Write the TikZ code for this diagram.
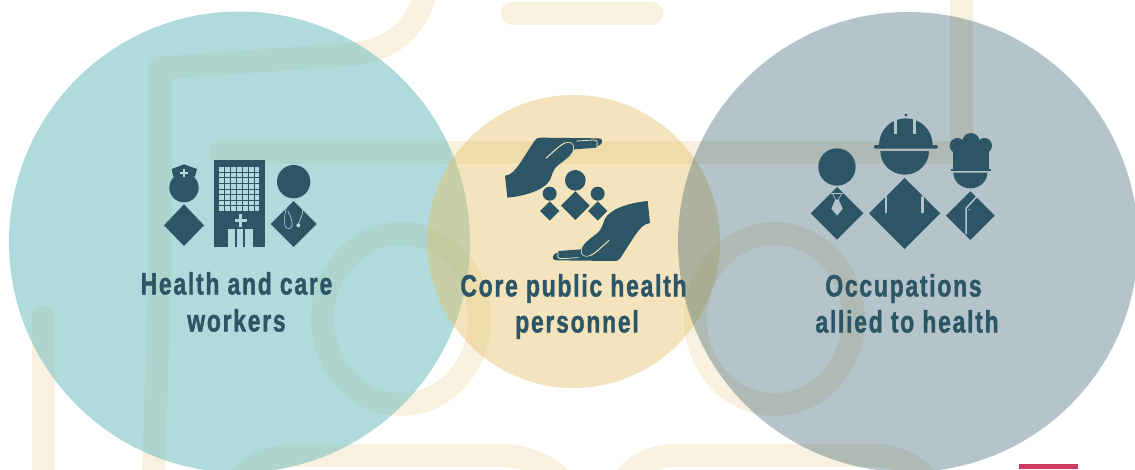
\documentclass[tikz,border=0pt]{standalone}
\usepackage{fontspec}
\newfontfamily\labelfont[FakeStretch=0.74,FakeBold=1.2,LetterSpace=5.6]{Liberation Sans Bold}
\definecolor{ink}{HTML}{2C5566}
\definecolor{lineb}{HTML}{F9F1DF}
\definecolor{teal}{RGB}{106,187,189}
\definecolor{gold}{RGB}{228,193,102}
\definecolor{slatec}{RGB}{40,86,103}
\definecolor{lteal}{HTML}{B0DBDC}
\definecolor{lgold}{HTML}{F3E4BD}
\definecolor{lgrey}{HTML}{B4C4CA}
\definecolor{redbar}{HTML}{D03A5E}
\tikzset{
  bgline/.style={draw=lineb,line width=23pt,line cap=round,line join=round},
  label/.style={text=ink,font=\labelfont\fontsize{31}{36}\selectfont,anchor=base,inner sep=0pt},
  icon/.style={scale=0.33333}
}
\newcommand\carehand{%
  \fill[ink] (30,152) .. controls (50,150) and (60,135) .. (75,115) -- (118,48)
    .. controls (123,40) and (128,38) .. (140,38) -- (310,40)
    .. controls (322,40) and (325,50) .. (320,55) .. controls (317,60) and (312,62) .. (306,63)
    -- (304,68) -- (238,73) .. controls (230,90) and (210,105) .. (190,120)
    .. controls (172,135) and (172,150) .. (165,165)
    .. controls (150,192) and (100,212) .. (37,218) -- cycle;
  \draw[lgold,line width=1pt,line cap=round] (153,100) .. controls (175,80) and (195,60) .. (210,54);
  \draw[lgold,line width=0.6pt,line cap=round] (210,54) .. controls (225,48) and (238,55) .. (236,70) .. controls (235,82) and (230,88) .. (226,92);
  \draw[lgold,line width=0.8pt,line cap=round] (245,48) -- (295,45) .. controls (305,44) and (310,52) .. (305,62);
}
\begin{document}
\begin{tikzpicture}[x=1pt,y=-1pt]
\useasboundingbox (0,0) rectangle (1135,469);
\clip (0,0) rectangle (1135,469);
% background line work
\draw[bgline] (425,-5) .. controls (415,30) and (390,52) .. (347,54.5) -- (160,68) -- (160,270) -- (153,490);
\draw[bgline] (43.5,317) -- (43.5,490);
\draw[bgline] (220,152.5) -- (961.5,152.5) -- (961.5,-20);
\draw[bgline] (512,13) -- (652,13);
\draw[bgline] (401,319) ellipse (78.5 and 85.5);
\draw[bgline] (774.5,319) ellipse (79 and 85.5);
\draw[bgline] (232,490) .. controls (245,465) and (270,455.5) .. (300,455.5) -- (500,455.5) .. controls (530,455.5) and (555,468) .. (570,490);
\draw[bgline] (618,490) .. controls (630,465) and (652,455.5) .. (676,455.5) -- (874,455.5) .. controls (898,455.5) and (918,465) .. (935,490);
% circles
\fill[teal,fill opacity=.53] (239.5,242) circle (230.5);
\fill[gold,fill opacity=.43] (573.5,241.5) circle (146.5);
\fill[slatec,fill opacity=.35] (908,242) circle (230);
\fill[redbar] (1019,464) rectangle (1078,469);
% health and care icon
\begin{scope}[shift={(150,150)},icon]
  \fill[ink] (102,113) circle (44);
  \fill[ink] (65,57) -- (102,43) -- (141,57) -- (135,80) -- (70,80) -- cycle;
  \fill[lteal] (99,56) rectangle (105,81);
  \fill[lteal] (89,66) rectangle (115,71);
  \fill[ink] (42,226) -- (102,163) -- (162,226) -- (102,288) -- cycle;
  \fill[ink] (192,30) rectangle (344,291);
  \foreach \i in {0,...,6}{\foreach \j in {0,...,7}{
    \fill[lteal] ({208+\i*17.7},{51+\j*16.9}) rectangle ++(14,14);
  }}
  \fill[lteal] (266,192) rectangle (277,230);
  \fill[lteal] (254,206) rectangle (291,217);
  \fill[lteal] (235,236) rectangle (308,291);
  \fill[ink] (254,236) rectangle (260,291);
  \fill[ink] (280,236) rectangle (286,291);
  \fill[ink] (431,95) circle (50);
  \fill[ink] (362,222) -- (431,153) -- (500,222) -- (431,291) -- cycle;
  \draw[lteal,line width=.6pt] (420,152) .. controls (410,165) and (400,195) .. (405,228) .. controls (408,238) and (425,238) .. (426,228) .. controls (428,210) and (420,195) .. (414,184);
  \draw[lteal,line width=.6pt] (438,150) .. controls (455,155) and (462,180) .. (456,195) .. controls (452,205) and (448,215) .. (445,224);
  \fill[lteal] (445,226) circle (6);
\end{scope}
% core public health icon
\begin{scope}[shift={(495,125)},icon]
  \carehand
  \begin{scope}[rotate around={180:(247.5,223)}]
    \carehand
  \end{scope}
  \fill[ink] (241,166) circle (31);
  \fill[ink] (198,242) -- (241,199) -- (284,242) -- (241,285) -- cycle;
  \fill[ink] (164,206) circle (21);
  \fill[ink] (135,258) -- (164,229) -- (193,258) -- (164,287) -- cycle;
  \fill[ink] (308,206) circle (21);
  \fill[ink] (279,258) -- (308,229) -- (337,258) -- (308,287) -- cycle;
\end{scope}
% allied occupations icon
\begin{scope}[shift={(800,105)},icon]
  \fill[ink] (111,186) circle (56);
  \fill[ink] (32,325) -- (111,246) -- (190,325) -- (111,404) -- cycle;
  \draw[lgrey,line width=.9pt] (94,264) -- (128,264);
  \draw[lgrey,line width=.7pt] (97,265) -- (107,285);
  \draw[lgrey,line width=.7pt] (125,265) -- (115,285);
  \fill[lgrey] (106,284) -- (116,284) -- (128,311) -- (111,332) -- (94,311) -- cycle;
  \fill[ink] (318,30) circle (5);
  \fill[ink] (237,120) arc (180:360:80.5 and 80) -- cycle;
  \fill[lgrey] (283,42) rectangle (291,87);
  \fill[lgrey] (340,42) rectangle (348,87);
  \fill[ink,rounded corners=1pt] (222,120) rectangle (413,131);
  \fill[ink] (241,138) arc (180:0:73 and 71) -- cycle;
  \fill[ink] (207,325) -- (314,219) -- (421,325) -- (314,432) -- cycle;
  \draw[lgrey,line width=2.6pt,line cap=round] (258,276) -- (258,322);
  \draw[lgrey,line width=2.6pt,line cap=round] (368,276) -- (368,322);
  \fill[ink] (472,122) circle (23);
  \fill[ink] (513,110) circle (26);
  \fill[ink] (553,122) circle (23);
  \fill[ink] (458,120) rectangle (568,192);
  \fill[ink] (453,191) rectangle (573,199);
  \fill[ink] (460,203) arc (180:0:51 and 47) -- cycle;
  \fill[ink] (438,332) -- (511,259) -- (584,332) -- (511,405) -- cycle;
  \draw[lgrey,line width=1.5pt] (532,273) -- (498,310) -- (498,388);
  \fill[lgrey] (507,314) circle (2.5);
\end{scope}
% labels
\node[label] (hc1) at (236.5,294.5) {Health and care};
\node[label] (hc2) at (236.5,331.5) {workers};
\node[label] (cp1) at (573.5,296.5) {Core public health};
\node[label] (cp2) at (577,332.5) {personnel};
\node[label] (oa1) at (903.5,296.5) {Occupations};
\node[label] (oa2) at (907,332.5) {allied to health};
\end{tikzpicture}
\end{document}
